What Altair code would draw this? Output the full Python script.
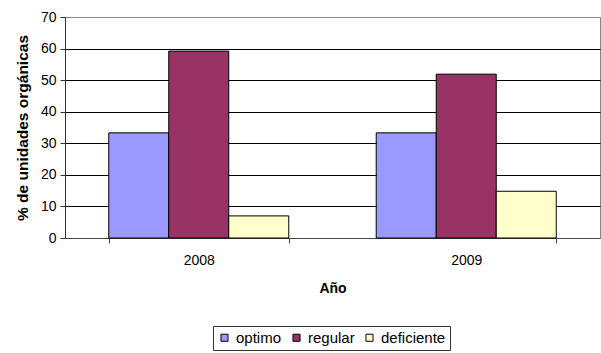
import altair as alt
import pandas as pd

years = ["2008", "2009"]
series = ["optimo", "regular", "deficiente"]
optimo = [33.3, 33.3]
regular = [59.2, 51.9]
deficiente = [7.0, 14.8]
colors = ["#9999FF", "#993366", "#FFFFCC"]

rows = []
for i, y in enumerate(years):
    for s, vals in zip(series, [optimo, regular, deficiente]):
        rows.append({"Año": y, "serie": s, "valor": vals[i]})
df = pd.DataFrame(rows)

font = "Liberation Sans"

chart = alt.Chart(df).mark_bar(stroke="black", strokeWidth=1).encode(
    x=alt.X("Año:N", sort=years,
            scale=alt.Scale(paddingInner=0.327, paddingOuter=0.1636),
            axis=alt.Axis(title="Año", labelAngle=0, tickBand="extent", tickSize=5,
                          domainColor="#444", tickColor="#444", labelPadding=10,
                          titlePadding=14, grid=False)),
    xOffset=alt.XOffset("serie:N", sort=series, scale=alt.Scale(paddingInner=0, paddingOuter=0)),
    y=alt.Y("valor:Q", scale=alt.Scale(domain=[0, 70]),
            axis=alt.Axis(title="% de unidades orgánicas", values=list(range(0, 71, 10)),
                          tickSize=5, domainColor="#333", tickColor="#333", labelPadding=4,
                          titlePadding=10, titleFontSize=15.5,
                          gridColor={"condition": {"test": "datum.value == 70 || datum.value == 0", "value": "#888888"}, "value": "#000000"},
                          gridOpacity=1)),
    color=alt.Color("serie:N", sort=series,
                    scale=alt.Scale(domain=series, range=colors),
                    legend=alt.Legend(title=None, orient="none", direction="horizontal",
                                      legendX=148, legendY=309,
                                      symbolType="square", symbolSize=50,
                                      symbolStrokeColor="black", symbolStrokeWidth=1,
                                      strokeColor="#333", padding=4,
                                      columnPadding=7, labelOffset=4)),
).properties(
    width=535, height=221,
    autosize=alt.AutoSizeParams(type="none"),
    padding={"left": 65, "top": 17, "right": 1, "bottom": 115},
).configure_view(
    stroke="#888888", strokeWidth=1
).configure_axis(
    labelFont=font, titleFont=font, labelFontSize=14, titleFontSize=14,
    labelColor="black", titleColor="black", titleFontWeight="bold"
).configure_legend(
    labelFont=font, labelFontSize=15, labelColor="black"
)

chart.save("out.html", embed_options={"renderer": "svg", "actions": False})
